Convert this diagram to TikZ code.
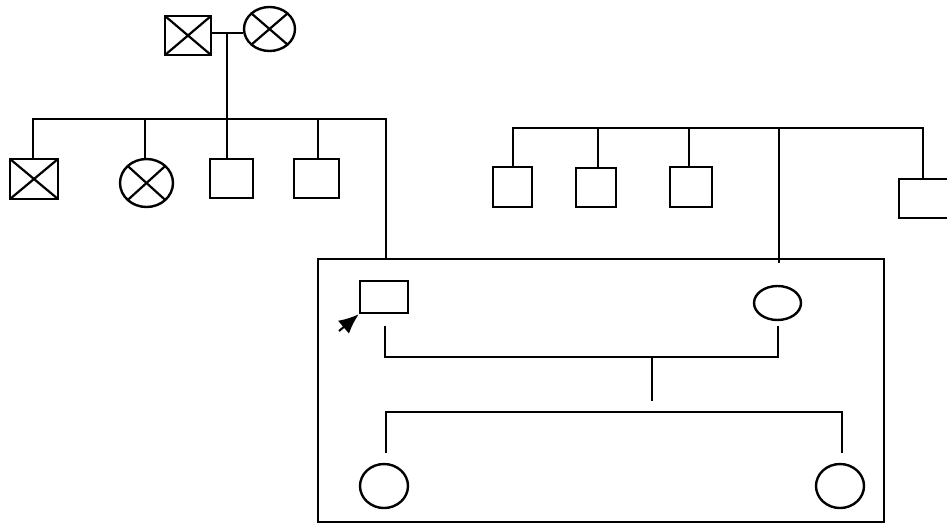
\documentclass[tikz,border=0pt]{standalone}
\usetikzlibrary{shapes.geometric,arrows.meta}
\begin{document}
\begin{tikzpicture}[x=1pt,y=-1pt,line width=2.4pt,
  sq/.style={draw,rectangle,inner sep=0pt},
  circ/.style={draw,ellipse,inner sep=0pt},
  crossed/.style={path picture={\draw[line width=2.2pt] (path picture bounding box.north west) -- (path picture bounding box.south east) (path picture bounding box.north east) -- (path picture bounding box.south west);}},
  tip/.style={line width=2pt,-{Latex[length=20pt,width=17pt]}}]
\useasboundingbox[fill=white] (0,0) rectangle (947,525);
% grandparents
\node[sq,crossed,minimum width=46pt,minimum height=39pt] (gf) at (188,35.5) {};
\node[circ,crossed,minimum width=51pt,minimum height=44pt] (gm) at (269.5,29) {};
\coordinate (m) at (227,33);
\draw (gf.east |- m) -- (gm.west |- m);
% left siblings
\node[sq,crossed,minimum width=48pt,minimum height=40pt] (c1) at (34,179) {};
\node[circ,crossed,minimum width=53pt,minimum height=48pt] (c2) at (146.5,183) {};
\node[sq,minimum width=43pt,minimum height=39pt] (c3) at (231.5,178.5) {};
\node[sq,minimum width=45pt,minimum height=39pt] (c4) at (316.5,178.5) {};
\coordinate (s1) at (33,119);
\coordinate (s1r) at (386,119);
\draw (m) -- (m |- c3.north);
\draw (c1.north -| s1) -- (s1) -- (s1r) -- (386,259);
\draw (c2.north -| 145,0) -- (145,119);
\draw (c4.north -| 318,0) -- (318,119);
% right siblings
\node[sq,minimum width=39pt,minimum height=40pt] (r1) at (512.5,187) {};
\node[sq,minimum width=40pt,minimum height=39pt] (r2) at (596,187.5) {};
\node[sq,minimum width=42pt,minimum height=40pt] (r3) at (691,187) {};
\node[sq,minimum width=54pt,minimum height=39pt] (r4) at (926,198.5) {};
\coordinate (s2) at (513,128);
\coordinate (s2r) at (923,128);
\draw (r1.north -| s2) -- (s2) -- (s2r) -- (r4.north -| s2r);
\draw (r2.north -| 598,0) -- (598,128);
\draw (r3.north -| 689,0) -- (689,128);
\draw (779,128) -- (779,263);
% nuclear family box
\node[draw,rectangle,inner sep=0pt,minimum width=566pt,minimum height=263pt] (box) at (601,390.5) {};
\node[sq,minimum width=48pt,minimum height=32pt] (p) at (384,297) {};
\node[circ,minimum width=47pt,minimum height=34pt] (sp) at (777.5,303) {};
\coordinate (arr) at (339,331);
\draw[tip] (arr) -- (p.south west);
\coordinate (mp1) at (385,357);
\coordinate (mp2) at (778,357);
\draw (385,326) -- (mp1) -- (mp2) -- (778,326);
\coordinate (mid) at (652,357);
\draw (mid) -- (652,401);
\node[circ,minimum width=48pt,minimum height=44pt] (k1) at (384,486) {};
\node[circ,minimum width=48pt,minimum height=44pt] (k2) at (840,486) {};
\coordinate (s3) at (386,412);
\coordinate (s3r) at (842,412);
\draw (386,453) -- (s3) -- (s3r) -- (842,453);
\end{tikzpicture}
\end{document}
